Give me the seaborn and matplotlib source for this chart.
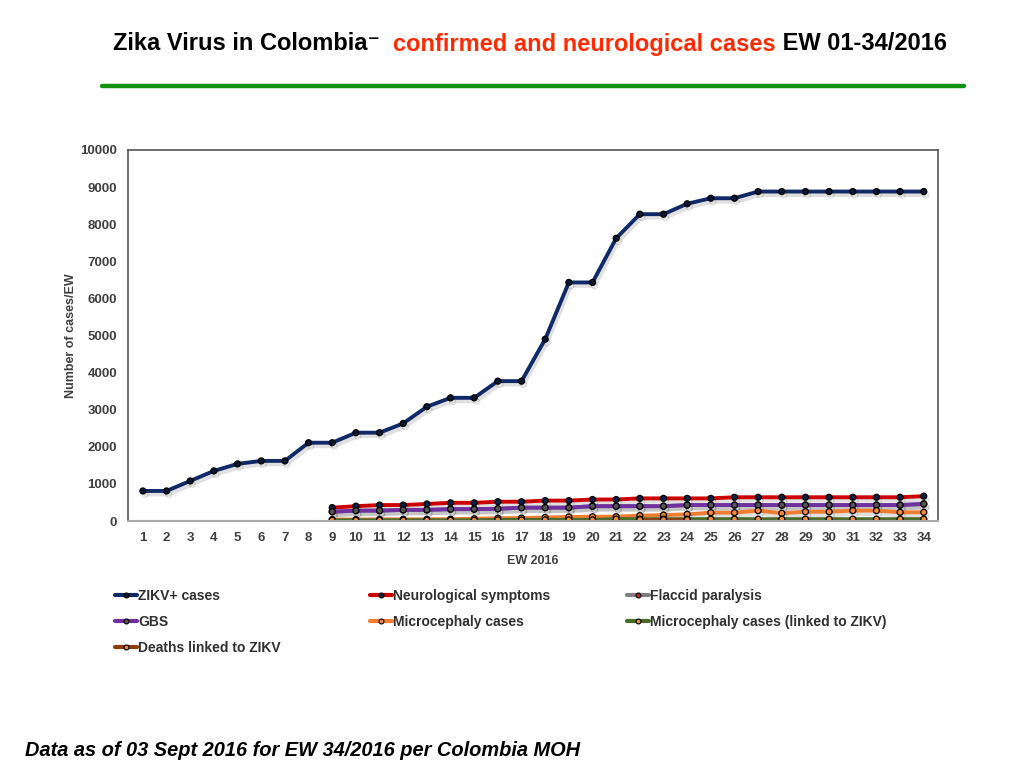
import seaborn as sns
import matplotlib.pyplot as plt
import matplotlib.patheffects as pe
from matplotlib.lines import Line2D
import pandas as pd

weeks = list(range(1, 35))
zikv = [810, 810, 1080, 1350, 1540, 1620, 1620, 2110, 2110, 2380, 2380, 2630,
        3080, 3320, 3320, 3770, 3770, 4900, 6430, 6430, 7620, 8270, 8270, 8550,
        8700, 8700, 8880, 8880, 8880, 8880, 8880, 8880, 8880, 8880]

weeks_neuro = list(range(9, 35))
neuro = [360, 400, 430, 430, 460, 490, 490, 520, 520, 550, 550, 580, 580,
         610, 610, 610, 610, 640, 640, 640, 640, 640, 640, 640, 640, 670]
gbs = [250, 280, 280, 300, 300, 320, 320, 330, 360, 360, 360, 400, 400,
       400, 400, 430, 430, 430, 430, 430, 430, 430, 430, 430, 430, 460]
flaccid = gbs
micro = [40, 40, 45, 45, 45, 50, 60, 75, 80, 95, 110, 115, 117,
         145, 160, 180, 225, 225, 280, 210, 250, 250, 280, 280, 235, 235]
micro_linked = [20] * 7 + [30] * 5 + [50] * 14

weeks_deaths = [22, 23, 24]
deaths = [35, 35, 35]

series = [
    ('ZIKV+ cases', weeks, zikv, '#0f2a66', '#0b1733'),
    ('Neurological symptoms', weeks_neuro, neuro, '#cc0000', '#0b1f4d'),
    ('Flaccid paralysis', weeks_neuro, flaccid, '#7f7f7f', '#d0231b'),
    ('GBS', weeks_neuro, gbs, '#7030a0', '#555555'),
    ('Microcephaly cases', weeks_neuro, micro, '#ee7d31', '#f28a36'),
    ('Microcephaly cases (linked to ZIKV)', weeks_neuro, micro_linked, '#4a6a2a', '#f28a36'),
    ('Deaths linked to ZIKV', weeks_deaths, deaths, '#8b3d0d', '#f28a36'),
]

sns.set_style('white')
plt.rcParams['font.family'] = ['Liberation Sans', 'DejaVu Sans']

fig = plt.figure(figsize=(10.24, 7.68), dpi=100)
ax = fig.add_axes([0.125, 0.3216, 0.791, 0.4831])

shadow = [pe.SimpleLineShadow(offset=(1.5, -2.5), shadow_color='k', alpha=0.12),
          pe.Normal()]

handles = {}
for name, x, y, color, mcolor in series:
    df = pd.DataFrame({'week': x, 'cases': y})
    sns.lineplot(data=df, x='week', y='cases', ax=ax, color=color,
                 linewidth=2.8, marker='o', markersize=4.3,
                 markerfacecolor=mcolor, markeredgecolor='black',
                 markeredgewidth=0.9, path_effects=shadow)
    handles[name] = Line2D([], [], color=color, linewidth=3, marker='o',
                           markersize=3.5, markerfacecolor=mcolor,
                           markeredgecolor='black', markeredgewidth=0.8)

ax.set_xlim(0.37, 34.6)
ax.set_ylim(0, 10000)
ax.set_xticks(weeks)
ax.set_yticks(range(0, 10001, 1000))
ax.tick_params(axis='both', length=0, labelsize=9.5, labelcolor='#404040', pad=8)
for lab in ax.get_xticklabels() + ax.get_yticklabels():
    lab.set_fontweight('bold')
ax.set_xlabel('EW 2016', fontsize=9, fontweight='bold', color='#404040', labelpad=8)
ax.set_ylabel('Number of cases/EW', fontsize=9, fontweight='bold', color='#404040', labelpad=2)
for side in ['top', 'right', 'left']:
    ax.spines[side].set_color('#555555')
    ax.spines[side].set_linewidth(1.2)
ax.spines['bottom'].set_color('#aaaaaa')
ax.spines['bottom'].set_linewidth(1.5)

# legend: three columns placed at fixed positions
legend_cols = [
    (['ZIKV+ cases', 'GBS', 'Deaths linked to ZIKV'], 0.112),
    (['Neurological symptoms', 'Microcephaly cases'], 0.361),
    (['Flaccid paralysis', 'Microcephaly cases (linked to ZIKV)'], 0.612),
]
for names, xpos in legend_cols:
    leg = fig.legend([handles[n] for n in names], names, loc='upper left',
                     bbox_to_anchor=(xpos, 0.233), frameon=False,
                     fontsize=10, handlelength=1.6, handletextpad=0.1,
                     labelspacing=0.85, borderaxespad=0, borderpad=0)
    for t in leg.get_texts():
        t.set_color('#303030')
        t.set_fontweight('bold')

# title made of three coloured pieces
renderer = fig.canvas.get_renderer()
pieces = [('Zika Virus in Colombia\u207b  ', 'black'),
          ('confirmed and neurological cases', '#ff2a00'),
          (' EW 01-34/2016', 'black')]
x = 113 / 1024
for text, color in pieces:
    t = fig.text(x, 1 - 44 / 768, text, color=color, fontsize=17,
                 fontweight='bold', ha='left', va='center')
    bb = t.get_window_extent(renderer=renderer)
    x += bb.width / fig.bbox.width

fig.add_artist(Line2D([102 / 1024, 964 / 1024], [1 - 86 / 768, 1 - 86 / 768],
                      color='#129112', linewidth=3.2))

fig.text(25 / 1024, 1 - 751 / 768,
         'Data as of 03 Sept 2016 for EW 34/2016 per Colombia MOH',
         fontsize=14.4, fontweight='bold', fontstyle='italic', va='center',
         color='black')

fig.savefig('out.png', dpi=100)
